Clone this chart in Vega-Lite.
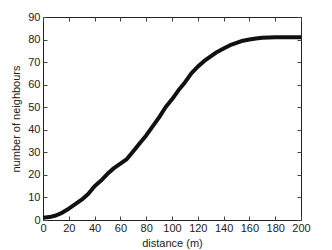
{
  "$schema": "https://vega.github.io/schema/vega-lite/v6.json",
  "width": 258,
  "height": 203,
  "autosize": {"type": "none"},
  "padding": {"left": 43, "top": 17, "right": 31, "bottom": 30},
  "background": "white",
  "config": {
    "view": {"stroke": "#222", "strokeWidth": 1},
    "axis": {
      "labelFont": "Liberation Sans",
      "titleFont": "Liberation Sans",
      "labelFontSize": 11,
      "titleFontSize": 11,
      "titleFontWeight": "normal",
      "labelColor": "#222",
      "titleColor": "#222",
      "grid": false,
      "domain": false,
      "tickColor": "#444",
      "tickSize": -4,
      "labelPadding": 7,
      "labelOverlap": false,
      "labelFlush": false
    }
  },
  "data": {
    "values": [
      {"d": 0, "n": 1}, {"d": 5, "n": 1.3}, {"d": 10, "n": 2}, {"d": 15, "n": 3.3},
      {"d": 20, "n": 5}, {"d": 25, "n": 7}, {"d": 30, "n": 9}, {"d": 35, "n": 11.5},
      {"d": 40, "n": 15}, {"d": 45, "n": 17.5}, {"d": 50, "n": 20.5}, {"d": 55, "n": 23},
      {"d": 60, "n": 25}, {"d": 65, "n": 27}, {"d": 70, "n": 30.5}, {"d": 75, "n": 34},
      {"d": 80, "n": 37.5}, {"d": 85, "n": 41.5}, {"d": 90, "n": 45.5}, {"d": 95, "n": 50},
      {"d": 100, "n": 53.5}, {"d": 105, "n": 57.5}, {"d": 110, "n": 61}, {"d": 115, "n": 65},
      {"d": 120, "n": 68}, {"d": 125, "n": 70.5}, {"d": 130, "n": 72.5}, {"d": 135, "n": 74.5},
      {"d": 140, "n": 76}, {"d": 145, "n": 77.5}, {"d": 150, "n": 78.5}, {"d": 155, "n": 79.5},
      {"d": 160, "n": 80}, {"d": 165, "n": 80.5}, {"d": 170, "n": 80.8}, {"d": 180, "n": 81},
      {"d": 190, "n": 81}, {"d": 200, "n": 81}
    ]
  },
  "layer": [
    {
      "mark": {"type": "line", "opacity": 0},
      "encoding": {
        "x": {"field": "d", "type": "quantitative", "scale": {"domain": [0, 200], "nice": false},
              "axis": {"orient": "top", "labels": false, "title": null, "values": [0,20,40,60,80,100,120,140,160,180,200]}},
        "y": {"field": "n", "type": "quantitative", "scale": {"domain": [0, 90], "nice": false},
              "axis": {"orient": "right", "labels": false, "title": null, "values": [0,10,20,30,40,50,60,70,80,90]}}
      }
    },
    {
      "mark": {"type": "line", "color": "#111", "strokeWidth": 4, "strokeJoin": "round", "strokeCap": "butt"},
      "encoding": {
        "x": {"field": "d", "type": "quantitative", "scale": {"domain": [0, 200], "nice": false},
              "axis": {"orient": "bottom", "title": "distance (m)", "values": [0,20,40,60,80,100,120,140,160,180,200], "labelPadding": 6, "titlePadding": 4}},
        "y": {"field": "n", "type": "quantitative", "scale": {"domain": [0, 90], "nice": false},
              "axis": {"orient": "left", "title": "number of neighbours", "values": [0,10,20,30,40,50,60,70,80,90], "titlePadding": 6}}
      }
    }
  ],
  "resolve": {"axis": {"x": "independent", "y": "independent"}}
}
